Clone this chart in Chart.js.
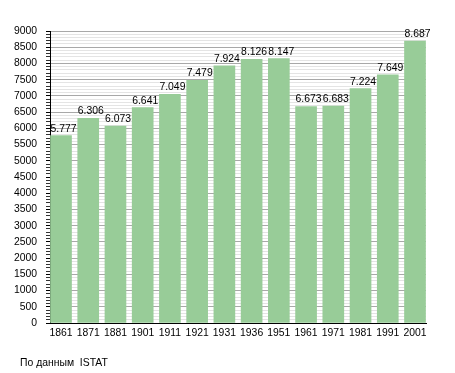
<!DOCTYPE html>
<html><head><meta charset="utf-8">
<script src="https://cdn.jsdelivr.net/npm/chart.js@4/dist/chart.umd.min.js"></script>
<style>
html,body{margin:0;padding:0;background:#fff;}
#wrap{position:relative;width:455px;height:373px;}
#note{position:absolute;left:20px;top:357px;font:10.4px "Liberation Sans",Arial,sans-serif;color:#000;white-space:pre;}
</style></head>
<body>
<div id="wrap"><canvas id="c" width="455" height="373"></canvas><div id="note">По данным  ISTAT</div></div>
<script>
const years = ['1861','1871','1881','1901','1911','1921','1931','1936','1951','1961','1971','1981','1991','2001'];
const population = [5777,6306,6073,6641,7049,7479,7924,8126,8147,6673,6683,7224,7649,8687];
const yTickLabelStep = 500;
const yMax = 9000;

const FONT = {family:'"Liberation Sans", Arial, sans-serif', size:10.4};
function fmt(v){ return Math.floor(v/1000)+'.'+String(v%1000).padStart(3,'0'); }

const n = years.length;
const labelPlugin = {
  id:'vals',
  afterDatasetsDraw(chart){
    const ctx = chart.ctx;
    const meta = chart.getDatasetMeta(0);
    ctx.save();
    ctx.font = '10.4px "Liberation Sans", Arial, sans-serif';
    ctx.fillStyle = '#000';
    ctx.textAlign = 'left';
    ctx.textBaseline = 'alphabetic';
    meta.data.forEach((el,i)=>{
      ctx.fillText(fmt(population[i]), el.x - el.width/2, el.y - 4);
    });
    ctx.restore();
  }
};

new Chart(document.getElementById('c'), {
  type:'bar',
  data:{
    datasets:[{
      data: population.map((v,i)=>({x:i, y:v})),
      backgroundColor:'#98cc98',
      borderWidth:0,
      barThickness:21
    }]
  },
  options:{
    responsive:false,
    animation:false,
    devicePixelRatio:1,
    layout:{padding:{top:31,right:29,left:0,bottom:0}},
    plugins:{legend:{display:false},tooltip:{enabled:false}},
    scales:{
      x:{
        type:'linear',
        offset:false,
        min:-0.404,
        max:(n-1)+0.404,
        afterBuildTicks(s){ s.ticks = years.map((_,i)=>({value:i})); },
        afterFit(s){ s.height = 50; },
        grid:{display:false, drawTicks:false, offset:false},
        border:{display:true,color:'#000',width:1},
        ticks:{
          autoSkip:false, maxRotation:0, padding:4,
          font:FONT, color:'#000',
          callback:(v)=> (Number.isInteger(v) && v>=0 && v<n) ? years[v] : ''
        }
      },
      y:{
        min:0, max:yMax,
        afterFit(s){ s.width = 50; },
        grid:{
          color:(c)=> (c.tick && c.tick.value % yTickLabelStep === 0) ? '#a8a8a8' : '#e4e4e4',
          tickColor:(c)=> (c.tick && c.tick.value % yTickLabelStep === 0) ? '#000' : '#333',
          tickLength:4,
          lineWidth:1
        },
        border:{display:true,color:'#000',width:1},
        ticks:{
          stepSize:100, autoSkip:false, maxTicksLimit:200, padding:9,
          font:FONT, color:'#000',
          callback:(v)=> (v % yTickLabelStep === 0) ? String(v) : ''
        }
      }
    }
  },
  plugins:[labelPlugin]
});
</script>
</body></html>
